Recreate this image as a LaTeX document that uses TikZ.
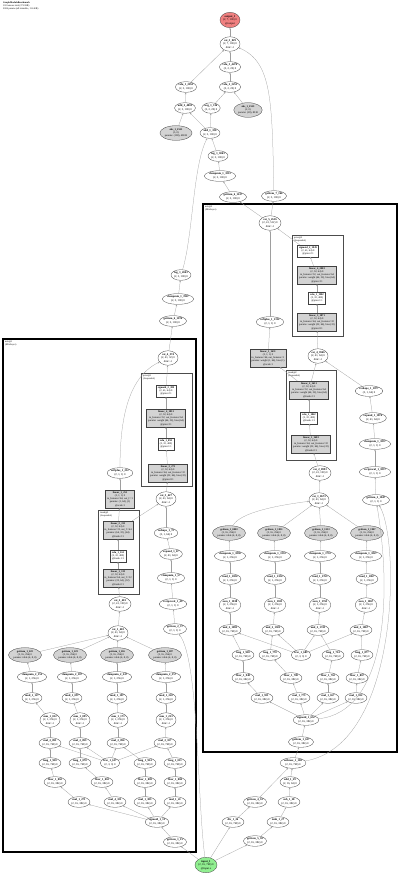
\documentclass[tikz,border=0pt]{standalone}
\usepackage{fontspec}
\setmainfont{Liberation Serif}
\usetikzlibrary{arrows.meta,positioning,shapes.geometric}
\definecolor{outred}{RGB}{240,128,128}
\definecolor{ingreen}{RGB}{144,238,144}
\definecolor{pargray}{RGB}{211,211,211}
\newcommand{\lb}[2]{\textbf{#1}\\#2}

\begin{document}
\begin{tikzpicture}[x=1pt, y=-1pt,
  fn/.style={draw=black!75, ellipse, line width=0.3pt, fill=white,
    inner xsep=0.2pt, inner ysep=0.8pt, align=center, font=\fontsize{2.8}{3.4}\selectfont},
  pfn/.style={fn, fill=pargray, font=\fontsize{2.6}{3.2}\selectfont},
  outn/.style={fn, fill=outred},
  inn/.style={fn, fill=ingreen},
  mod/.style={draw=black!75, line width=0.3pt, fill=white, inner xsep=1.6pt,
    inner ysep=1.3pt, align=center, font=\fontsize{2.6}{3.3}\selectfont},
  pmod/.style={mod, fill=pargray},
  arr/.style={-{Stealth[length=1.8pt, width=1.5pt]}, line width=0.25pt, black!38},
  grp/.style={draw, line width=1.1pt},
  subgrp/.style={draw=black!70, line width=0.9pt},
  tag/.style={anchor=north west, align=left, inner sep=0pt,
    font=\fontsize{2.4}{2.8}\selectfont}
]
  \path[use as bounding box, fill=white] (0,0) rectangle (400,875);

  \node[tag] (title) at (3,2) {\textbf{GraphModuleBenchmark}\\102 tensors total (37.8 KB)\\2006 params (all trainable, 11.6 KB)};

  % module boxes
  \draw[grp] (3,339) rectangle (196,852);
  \draw[grp] (203,204) rectangle (397,752);
  \draw[subgrp] (141,373) rectangle (192,486);
  \draw[subgrp] (98,510) rectangle (139,594);
  \draw[subgrp] (292,235) rectangle (343,336);
  \draw[subgrp] (286,370) rectangle (336,460);
  \node[tag] (tmixa) at (5,341) {mix@1\\(MixLayer)};
  \node[tag] (tmixb) at (205,206) {mix@2\\(MixLayer)};
  \node[tag] (tpria) at (143,375) {prior@1\\(Sequential)};
  \node[tag] (ttrka) at (100,512) {trunk@1\\(Sequential)};
  \node[tag] (tprib) at (294,237) {prior@2\\(Sequential)};
  \node[tag] (ttrkb) at (288,372) {trunk@2\\(Sequential)};

  % head
  \node[outn] (out) at (230,20) {\lb{output\_1}{(2, 7, 100) 0\\@output}};
  \node[fn] (cat3) at (230,44) {\lb{cat\_3\_029}{(2, 7, 100) 0\\dim=-1}};
  \node[fn] (relu3) at (230,67) {\lb{relu\_3\_4474}{(2, 2, 20) 0}};
  \node[fn] (relu1) at (186,87) {\lb{relu\_1\_2053}{(2, 5, 100) 0}};
  \node[fn] (relu2) at (230,87) {\lb{relu\_2\_3251}{(2, 2, 20) 0}};
  \node[fn] (add2) at (185,108) {\lb{add\_2\_4003}{(2, 5, 100) 0}};
  \node[fn] (neg1) at (211,108) {\lb{neg\_1\_316}{(2, 2, 20) 0}};
  \node[pfn] (absb) at (248,110) {\lb{abs\_1\_2553}{(2, 0)\\params: (20), 80 B}};
  \node[pfn] (absa) at (176,133) {\lb{abs\_1\_2551}{(5, 0)\\params: (100), 400 B}};
  \node[fn] (add1) at (210,133) {\lb{add\_1\_330}{(2, 5, 100) 0}};
  \node[fn] (logb) at (218,156) {\lb{log\_1\_3063}{(2, 2, 100) 0}};
  \node[fn] (clmb) at (220,176) {\lb{clampmin\_1\_3213}{(2, 2, 100) 0}};
  \node[fn] (get6b) at (233,197) {\lb{getitem\_6\_1617}{(2, 2, 100) 0}};
  \node[fn] (get7b) at (274,196) {\lb{getitem\_7\_166}{(2, 5, 100) 0}};
  \node[fn] (loga) at (181,275) {\lb{log\_1\_2043}{(2, 5, 100) 0}};
  \node[fn] (clma) at (178,299) {\lb{clampmin\_1\_1967}{(2, 5, 100) 0}};
  \node[fn] (get6a) at (173,321) {\lb{getitem\_6\_1074}{(2, 5, 100) 0}};

  % mix@1
  \node[fn] (cat4a) at (168,358) {\lb{cat\_4\_374}{(2, 41, 32) 0\\dim=-1}};
  \node[mod] (siga) at (166,391) {\lb{sigmoid\_2\_389}{(2, 41, 64) 0\\@prior.2:1}};
  \node[pmod] (lin4a) at (166,418) {\lb{linear\_4\_1051}{(2, 32, 64) 0\\in\_features=32, out\_features=64\\params: weight (64, 32), bias (64)\\@prior.3:1}};
  \node[mod] (relua) at (166,444) {\lb{relu\_1\_893}{(2, 32, 400)\\@prior.1:1}};
  \node[pmod] (lin3a) at (168,473) {\lb{linear\_3\_271}{(2, 32, 64) 0\\in\_features=64, out\_features=32\\params: weight (32, 64), bias (32)\\@prior.0:1}};
  \node[fn] (sofa) at (120,473) {\lb{softplus\_1\_212}{(2, 1, 1) 0}};
  \node[pmod] (linoa) at (120,499) {\lb{linear\_1\_251}{(2, 1, 1) 0\\in\_features=64, out\_f.=1\\params: (1, 64), (1)\\@scale:1}};
  \node[fn] (cat3a) at (166,499) {\lb{cat\_3\_427}{(2, 41, 64) 0\\dim=-1}};
  \node[pmod] (lin2a) at (118,530) {\lb{linear\_2\_311}{(2, 32, 64) 0\\in\_features=32, out\_f.=64\\params: (64, 32), (64)\\@trunk.2:1}};
  \node[mod] (relub) at (118,556) {\lb{relu\_1\_161}{(2, 32, 400)\\@trunk.1:1}};
  \node[pmod] (lin1a) at (118,578) {\lb{linear\_1\_133}{(2, 32, 64) 0\\in\_features=64, out\_f.=32\\params: (32, 64), (32)\\@trunk.0:1}};
  \node[fn] (cat2a) at (120,604) {\lb{cat\_2\_401}{(2, 41, 100) 0\\dim=-1}};
  \node[fn] (cat1a) at (118,633) {\lb{cat\_1\_403}{(2, 41, 64) 0\\dim=-1}};
  \node[fn] (rsha) at (166,533) {\lb{reshape\_1\_72}{(2, 1, 64) 0}};
  \node[fn] (expa) at (171,554) {\lb{expand\_1\_67}{(2, 41, 64) 0}};
  \node[fn] (clra) at (171,578) {\lb{clampmin\_1\_57}{(2, 1, 1) 0}};
  \node[fn] (reca) at (173,604) {\lb{reciprocal\_1\_49}{(2, 1, 1) 0}};
  \node[fn] (get2a) at (175,629) {\lb{getitem\_2\_37}{(2, 1, 1) 0}};
  \node[pfn] (gpa1) at (25,655) {\lb{getitem\_1\_222}{(2, 16, 256) 0\\params: table (4, 8, 8)}};
  \node[pfn] (gpa2) at (70,655) {\lb{getitem\_1\_223}{(2, 16, 256) 0\\params: table (4, 8, 8)}};
  \node[pfn] (gpa3) at (117,655) {\lb{getitem\_1\_265}{(2, 16, 256) 0\\params: table (4, 8, 8)}};
  \node[pfn] (gpa4) at (165,655) {\lb{getitem\_1\_287}{(2, 16, 256) 0\\params: table (4, 8, 8)}};
  \node[fn] (cla1) at (32,677) {\lb{clampmin\_2\_152}{(2, 1, 256) 0}};
  \node[fn] (cla2) at (72,677) {\lb{clampmin\_2\_187}{(2, 1, 256) 0}};
  \node[fn] (cla3) at (117,677) {\lb{clampmin\_2\_247}{(2, 1, 256) 0}};
  \node[fn] (cla4) at (166,677) {\lb{clampmin\_2\_357}{(2, 1, 256) 0}};
  \node[fn] (mua1) at (32,698) {\lb{mod\_1\_127}{(2, 1, 256) 0}};
  \node[fn] (mua2) at (72,698) {\lb{mod\_1\_097}{(2, 1, 256) 0}};
  \node[fn] (mua3) at (117,698) {\lb{mod\_1\_187}{(2, 1, 256) 0}};
  \node[fn] (mua4) at (166,698) {\lb{mod\_1\_243}{(2, 1, 256) 0}};
  \node[fn] (sua1) at (50,720) {\lb{sum\_1\_052}{(2, 1, 256) 0\\dim=-1}};
  \node[fn] (sua2) at (80,720) {\lb{sum\_1\_095}{(2, 1, 256) 0\\dim=-1}};
  \node[fn] (sua3) at (118,720) {\lb{sum\_1\_171}{(2, 1, 256) 0\\dim=-1}};
  \node[fn] (sua4) at (166,720) {\lb{sum\_1\_253}{(2, 1, 256) 0\\dim=-1}};
  \node[fn] (mba1) at (50,743) {\lb{mul\_2\_091}{(2, 16, 768) 0}};
  \node[fn] (mba2) at (80,743) {\lb{mul\_2\_093}{(2, 16, 768) 0}};
  \node[fn] (mba3) at (118,743) {\lb{mul\_2\_094}{(2, 16, 768) 0}};
  \node[fn] (mba4) at (165,743) {\lb{mul\_2\_107}{(2, 16, 768) 0}};
  \node[fn] (lga1) at (50,763) {\lb{long\_1\_950}{(2, 16, 768) 0}};
  \node[fn] (lga2) at (80,763) {\lb{long\_1\_070}{(2, 16, 768) 0}};
  \node[fn] (trca) at (110,763) {\lb{frac\_1\_617}{(2, 3, 3) 0}};
  \node[fn] (lga3) at (145,763) {\lb{long\_1\_954}{(2, 16, 768) 0}};
  \node[fn] (lga4) at (175,763) {\lb{long\_1\_011}{(2, 16, 768) 0}};
  \node[fn] (fla1) at (55,782) {\lb{floor\_1\_062}{(2, 16, 384) 0}};
  \node[fn] (fla2) at (102,782) {\lb{floor\_1\_063}{(2, 16, 384) 0}};
  \node[fn] (fla3) at (145,782) {\lb{floor\_1\_083}{(2, 16, 384) 0}};
  \node[fn] (fla4) at (175,782) {\lb{floor\_1\_084}{(2, 16, 384) 0}};
  \node[fn] (mca1) at (79,802) {\lb{mul\_1\_271}{(2, 16, 384) 0}};
  \node[fn] (mca2) at (115,802) {\lb{mul\_4\_321}{(2, 16, 384) 0}};
  \node[fn] (mca3) at (145,802) {\lb{mul\_1\_383}{(2, 16, 384) 0}};
  \node[fn] (mca4) at (175,802) {\lb{mul\_1\_41}{(2, 16, 384) 0}};
  \node[fn] (sigl) at (157,822) {\lb{sigmoid\_1\_13}{(2, 16, 384) 0}};
  \node[fn] (getl) at (175,842) {\lb{getitem\_1\_15}{(2, 16, 384) 0}};

  % mix@2
  \node[fn] (cat5) at (270,223) {\lb{cat\_5\_4516}{(2, 41, 512) 0\\dim=-1}};
  \node[mod] (sigb) at (308,251) {\lb{sigmoid\_2\_1049}{(2, 41, 64) 0\\@prior.2:1}};
  \node[pmod] (lin4b) at (317,275) {\lb{linear\_4\_2003}{(2, 32, 64) 0\\in\_features=32, out\_features=64\\params: weight (64, 32), bias (64)\\@prior.3:1}};
  \node[mod] (relub2) at (317,298) {\lb{relu\_1\_1982}{(2, 32, 400)\\@prior.1:1}};
  \node[pmod] (lin3b) at (317,322) {\lb{linear\_3\_1871}{(2, 32, 64) 0\\in\_features=64, out\_features=32\\params: weight (32, 64), bias (32)\\@prior.0:1}};
  \node[fn] (sofb) at (270,322) {\lb{softplus\_1\_1312}{(2, 1, 1) 0}};
  \node[pmod] (linob) at (268,358) {\lb{linear\_1\_1611}{(2, 1, 1) 0\\in\_features=64, out\_features=1\\params: weight (1, 64), bias (1)\\@scale:1}};
  \node[fn] (cat4b) at (318,356) {\lb{cat\_4\_3946}{(2, 41, 64) 0\\dim=-1}};
  \node[pmod] (lin2b) at (309,390) {\lb{linear\_2\_1651}{(2, 32, 64) 0\\in\_features=32, out\_features=64\\params: weight (64, 32), bias (64)\\@trunk.2:1}};
  \node[mod] (relub3) at (309,418) {\lb{relu\_1\_1842}{(2, 32, 400)\\@trunk.1:1}};
  \node[pmod] (lin1b) at (311,444) {\lb{linear\_1\_1603}{(2, 32, 64) 0\\in\_features=64, out\_features=32\\params: weight (32, 64), bias (32)\\@trunk.0:1}};
  \node[fn] (rshb) at (369,391) {\lb{reshape\_1\_1877}{(2, 1, 64) 0}};
  \node[fn] (expb) at (373,418) {\lb{expand\_1\_1874}{(2, 41, 64) 0}};
  \node[fn] (clrb) at (375,444) {\lb{clampmin\_1\_1857}{(2, 1, 1) 0}};
  \node[fn] (recb) at (375,472) {\lb{reciprocal\_1\_1837}{(2, 1, 1) 0}};
  \node[fn] (get2b) at (376,500) {\lb{getitem\_2\_1847}{(2, 1, 1) 0}};
  \node[fn] (cat2b) at (320,473) {\lb{cat\_2\_0993}{(2, 41, 100) 0\\dim=-1}};
  \node[fn] (cat1b) at (319,500) {\lb{cat\_1\_0673}{(2, 41, 64) 0\\dim=-1}};
  \node[pfn] (gpb1) at (229,533) {\lb{getitem\_1\_0003}{(2, 16, 256) 0\\params: table (4, 8, 8)}};
  \node[pfn] (gpb2) at (274,533) {\lb{getitem\_1\_1051}{(2, 16, 256) 0\\params: table (4, 8, 8)}};
  \node[pfn] (gpb3) at (321,533) {\lb{getitem\_1\_1513}{(2, 16, 256) 0\\params: table (4, 8, 8)}};
  \node[pfn] (gpb4) at (367,533) {\lb{getitem\_1\_1907}{(2, 16, 256) 0\\params: table (4, 8, 8)}};
  \node[fn] (clb1) at (230,556) {\lb{clampmin\_1\_1858}{(2, 1, 256) 0}};
  \node[fn] (clb2) at (275,556) {\lb{clampmin\_1\_1353}{(2, 1, 256) 0}};
  \node[fn] (clb3) at (320,556) {\lb{clampmin\_1\_1753}{(2, 1, 256) 0}};
  \node[fn] (clb4) at (366,556) {\lb{clampmin\_1\_1827}{(2, 1, 256) 0}};
  \node[fn] (mub1) at (230,579) {\lb{mod\_1\_1824}{(2, 1, 256) 0}};
  \node[fn] (mub2) at (275,579) {\lb{mod\_1\_1324}{(2, 1, 256) 0}};
  \node[fn] (mub3) at (320,579) {\lb{mod\_1\_1763}{(2, 1, 256) 0}};
  \node[fn] (mub4) at (367,579) {\lb{mod\_1\_1867}{(2, 1, 256) 0}};
  \node[fn] (sub1) at (230,605) {\lb{sum\_1\_1818}{(2, 1, 256) 0\\dim=-1}};
  \node[fn] (sub2) at (275,605) {\lb{sum\_1\_1303}{(2, 1, 256) 0\\dim=-1}};
  \node[fn] (sub3) at (320,605) {\lb{sum\_1\_1763}{(2, 1, 256) 0\\dim=-1}};
  \node[fn] (sub4) at (366,605) {\lb{sum\_1\_1867}{(2, 1, 256) 0\\dim=-1}};
  \node[fn] (mbb1) at (230,630) {\lb{mul\_2\_1895}{(2, 16, 768) 0}};
  \node[fn] (mbb2) at (273,630) {\lb{mul\_2\_1581}{(2, 16, 768) 0}};
  \node[fn] (mbb3) at (318,630) {\lb{mul\_2\_1743}{(2, 16, 768) 0}};
  \node[fn] (mbb4) at (361,630) {\lb{mul\_2\_1867}{(2, 16, 768) 0}};
  \node[fn] (lgb1) at (243,655) {\lb{long\_1\_958}{(2, 16, 768) 0}};
  \node[fn] (lgb2) at (270,655) {\lb{long\_1\_770}{(2, 16, 768) 0}};
  \node[fn] (trcb) at (301,655) {\lb{frac\_1\_683}{(2, 3, 3) 0}};
  \node[fn] (lgb3) at (333,655) {\lb{long\_1\_714}{(2, 16, 768) 0}};
  \node[fn] (lgb4) at (362,655) {\lb{long\_1\_877}{(2, 16, 768) 0}};
  \node[fn] (flb1) at (243,678) {\lb{floor\_1\_948}{(2, 16, 384) 0}};
  \node[fn] (flb2) at (291,678) {\lb{floor\_1\_780}{(2, 16, 384) 0}};
  \node[fn] (flb3) at (328,678) {\lb{floor\_1\_762}{(2, 16, 384) 0}};
  \node[fn] (flb4) at (357,678) {\lb{floor\_1\_867}{(2, 16, 384) 0}};
  \node[fn] (mcb1) at (262,698) {\lb{mul\_1\_931}{(2, 16, 384) 0}};
  \node[fn] (mcb2) at (299,698) {\lb{mul\_1\_773}{(2, 16, 384) 0}};
  \node[fn] (mcb3) at (328,698) {\lb{mul\_1\_657}{(2, 16, 384) 0}};
  \node[fn] (mcb4) at (356,698) {\lb{mul\_1\_912}{(2, 16, 384) 0}};
  \node[fn] (sigr) at (306,720) {\lb{sigmoid\_1\_652}{(2, 16, 384) 0}};
  \node[fn] (getr) at (301,742) {\lb{getitem\_1\_657}{(2, 16, 384) 0}};

  % stem
  \node[fn] (smx) at (293,763) {\lb{softmax\_1\_108}{(2, 16, 768) 0}};
  \node[fn] (addq) at (290,782) {\lb{add\_1\_29}{(2, 16, 64) 0}};
  \node[fn] (subq) at (289,802) {\lb{sub\_1\_28}{(2, 16, 384) 0}};
  \node[fn] (tnh) at (278,822) {\lb{tanh\_1\_27}{(2, 16, 384) 0}};
  \node[fn] (get4) at (255,802) {\lb{getitem\_4\_32}{(2, 16, 384) 0}};
  \node[fn] (divq) at (233,822) {\lb{div\_1\_26}{(2, 16, 768) 0}};
  \node[fn] (get5) at (255,841) {\lb{getitem\_5\_30}{(2, 16, 384) 0}};
  \node[inn] (in) at (206,865) {\lb{input\_1}{(2, 16, 768) 0\\@input.x}};

  % edges: head
  \draw[arr] (cat3) -- (out);
  \draw[arr] (relu3) -- (cat3);
  \draw[arr] (relu1) -- (cat3);
  \draw[arr] (get7b) .. controls (272,100) and (272,62) .. (cat3);
  \draw[arr] (relu2) -- (relu3);
  \draw[arr] (add2) -- (relu1);
  \draw[arr] (neg1) -- (relu2);
  \draw[arr] (absb) -- (relu2);
  \draw[arr] (absa) -- (add2);
  \draw[arr] (add1) -- (add2);
  \draw[arr] (add1) -- (neg1);
  \draw[arr] (logb) -- (add1);
  \draw[arr] (clmb) -- (logb);
  \draw[arr] (get6b) -- (clmb);
  \draw[arr] (loga) .. controls (193,235) and (193,165) .. (add1);
  \draw[arr] (clma) -- (loga);
  \draw[arr] (get6a) -- (clma);
  \draw[arr] (cat4a) -- (get6a);
  \draw[arr] (cat5) -- (get6b);
  \draw[arr] (cat5) -- (get7b);

  % edges: mix@1
  \draw[arr] (siga) -- (cat4a);
  \draw[arr] (sofa) .. controls (120,425) and (126,378) .. (cat4a);
  \draw[arr] (lin4a) -- (siga);
  \draw[arr] (relua) -- (lin4a);
  \draw[arr] (lin3a) -- (relua);
  \draw[arr] (cat3a) -- (lin3a);
  \draw[arr] (linoa) -- (sofa);
  \draw[arr] (lin2a) -- (linoa);
  \draw[arr] (lin2a) -- (cat3a);
  \draw[arr] (rsha) -- (cat3a);
  \draw[arr] (relub) -- (lin2a);
  \draw[arr] (lin1a) -- (relub);
  \draw[arr] (cat2a) -- (lin1a);
  \draw[arr] (cat1a) -- (cat2a);
  \draw[arr] (expa) -- (rsha);
  \draw[arr] (clra) -- (expa);
  \draw[arr] (reca) -- (clra);
  \draw[arr] (get2a) -- (reca);
  \draw[arr] (gpa1) -- (cat1a);
  \draw[arr] (gpa2) -- (cat1a);
  \draw[arr] (gpa3) -- (cat1a);
  \draw[arr] (gpa4) -- (cat1a);
  \draw[arr] (cla1) -- (gpa1);
  \draw[arr] (cla2) -- (gpa2);
  \draw[arr] (cla3) -- (gpa3);
  \draw[arr] (cla4) -- (gpa4);
  \draw[arr] (mua1) -- (cla1);
  \draw[arr] (mua2) -- (cla2);
  \draw[arr] (mua3) -- (cla3);
  \draw[arr] (mua4) -- (cla4);
  \draw[arr] (sua1) -- (mua1);
  \draw[arr] (sua2) -- (mua2);
  \draw[arr] (sua3) -- (mua3);
  \draw[arr] (sua4) -- (mua4);
  \draw[arr] (mba1) -- (sua1);
  \draw[arr] (mba2) -- (sua2);
  \draw[arr] (mba3) -- (sua3);
  \draw[arr] (mba4) -- (sua4);
  \draw[arr] (lga1) -- (mba1);
  \draw[arr] (lga2) -- (mba2);
  \draw[arr] (lga3) -- (mba3);
  \draw[arr] (lga4) -- (mba4);
  \draw[arr] (trca) -- (mba1);
  \draw[arr] (trca) -- (mba2);
  \draw[arr] (trca) -- (mba3);
  \draw[arr] (trca) -- (mba4);
  \draw[arr] (fla1) -- (lga1);
  \draw[arr] (fla2) -- (lga2);
  \draw[arr] (fla3) -- (lga3);
  \draw[arr] (fla4) -- (lga4);
  \draw[arr] (mca1) -- (fla1);
  \draw[arr] (mca2) -- (fla2);
  \draw[arr] (mca3) -- (fla3);
  \draw[arr] (mca4) -- (fla4);
  \draw[arr] (sigl) -- (mca1);
  \draw[arr] (sigl) -- (mca2);
  \draw[arr] (sigl) -- (mca3);
  \draw[arr] (sigl) -- (mca4);
  \draw[arr] (getl) -- (sigl);

  % edges: mix@2
  \draw[arr] (sigb) -- (cat5);
  \draw[arr] (sofb) -- (cat5);
  \draw[arr] (lin4b) -- (sigb);
  \draw[arr] (relub2) -- (lin4b);
  \draw[arr] (lin3b) -- (relub2);
  \draw[arr] (cat4b) -- (lin3b);
  \draw[arr] (linob) -- (sofb);
  \draw[arr] (lin2b) -- (linob);
  \draw[arr] (lin2b) -- (cat4b);
  \draw[arr] (rshb) -- (cat4b);
  \draw[arr] (relub3) -- (lin2b);
  \draw[arr] (lin1b) -- (relub3);
  \draw[arr] (cat2b) -- (lin1b);
  \draw[arr] (cat1b) -- (cat2b);
  \draw[arr] (expb) -- (rshb);
  \draw[arr] (clrb) -- (expb);
  \draw[arr] (recb) -- (clrb);
  \draw[arr] (get2b) -- (recb);
  \draw[arr] (gpb1) .. controls (240,512) and (280,505) .. (cat1b);
  \draw[arr] (gpb2) -- (cat1b);
  \draw[arr] (gpb3) -- (cat1b);
  \draw[arr] (gpb4) -- (cat1b);
  \draw[arr] (clb1) -- (gpb1);
  \draw[arr] (clb2) -- (gpb2);
  \draw[arr] (clb3) -- (gpb3);
  \draw[arr] (clb4) -- (gpb4);
  \draw[arr] (mub1) -- (clb1);
  \draw[arr] (mub2) -- (clb2);
  \draw[arr] (mub3) -- (clb3);
  \draw[arr] (mub4) -- (clb4);
  \draw[arr] (sub1) -- (mub1);
  \draw[arr] (sub2) -- (mub2);
  \draw[arr] (sub3) -- (mub3);
  \draw[arr] (sub4) -- (mub4);
  \draw[arr] (mbb1) -- (sub1);
  \draw[arr] (mbb2) -- (sub2);
  \draw[arr] (mbb3) -- (sub3);
  \draw[arr] (mbb4) -- (sub4);
  \draw[arr] (lgb1) -- (mbb1);
  \draw[arr] (lgb2) -- (mbb2);
  \draw[arr] (lgb3) -- (mbb3);
  \draw[arr] (lgb4) -- (mbb4);
  \draw[arr] (trcb) -- (mbb1);
  \draw[arr] (trcb) -- (mbb2);
  \draw[arr] (trcb) -- (mbb3);
  \draw[arr] (trcb) -- (mbb4);
  \draw[arr] (flb1) -- (lgb1);
  \draw[arr] (flb2) -- (lgb2);
  \draw[arr] (flb3) -- (lgb3);
  \draw[arr] (flb4) -- (lgb4);
  \draw[arr] (mcb1) -- (flb1);
  \draw[arr] (mcb2) -- (flb2);
  \draw[arr] (mcb3) -- (flb3);
  \draw[arr] (mcb4) -- (flb4);
  \draw[arr] (sigr) -- (mcb1);
  \draw[arr] (sigr) -- (mcb2);
  \draw[arr] (sigr) -- (mcb3);
  \draw[arr] (sigr) -- (mcb4);
  \draw[arr] (getr) -- (sigr);

  % edges: stem
  \draw[arr] (smx) -- (getr);
  \draw[arr] (smx) .. controls (400,745) and (400,540) .. (get2b);
  \draw[arr] (sigr) .. controls (385,712) and (393,600) .. (get2b);
  \draw[arr] (addq) -- (smx);
  \draw[arr] (subq) -- (addq);
  \draw[arr] (tnh) -- (subq);
  \draw[arr] (get5) -- (tnh);
  \draw[arr] (get4) -- (smx);
  \draw[arr] (divq) -- (get4);
  \draw[arr] (in) -- (divq);
  \draw[arr] (in) -- (get5);
  \draw[arr] (in) -- (getl);
  \draw[arr] (in) .. controls (197,800) and (199,660) .. (get2a);
\end{tikzpicture}
\end{document}
